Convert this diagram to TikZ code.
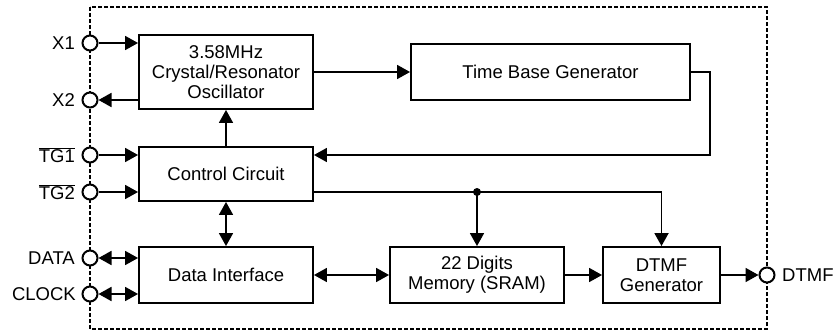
\documentclass[tikz,border=0pt]{standalone}
\usepackage{fontspec}
\setmainfont{Liberation Sans}
\usetikzlibrary{arrows.meta}
\begin{document}
\begin{tikzpicture}[x=1pt,y=-1pt,
  txt/.style={font=\fontsize{18.5}{20}\selectfont},
  blk/.style={txt,draw,line width=1.9pt,inner sep=0pt,align=center},
  pin/.style={circle,draw,line width=2pt,fill=white,minimum size=15pt,inner sep=0pt},
  lbl/.style={txt,inner sep=0pt},
  tip/.style={Triangle[length=13pt,width=14pt]},
  arr/.style={line width=1.8pt,-{Triangle[length=13pt,width=14pt]}},
  darr/.style={line width=1.8pt,{Triangle[length=13pt,width=14pt]}-{Triangle[length=13pt,width=14pt]}},
  chip/.style={line width=1.4pt,dash pattern=on 4pt off 2pt}
  ]
\useasboundingbox (0,0) rectangle (837,331);
\draw[chip] (90,7) rectangle (767,329);
% blocks
\node[blk,minimum width=174pt,minimum height=74pt] (osc) at (226,72) {3.58MHz\\Crystal/Resonator\\Oscillator};
\node[blk,minimum width=279pt,minimum height=56pt] (tbg) at (550.5,72) {Time Base Generator};
\node[blk,minimum width=174pt,minimum height=54pt] (cc) at (226,174) {Control Circuit};
\node[blk,minimum width=174pt,minimum height=56pt] (di) at (226,275) {Data Interface};
\node[blk,minimum width=174pt,minimum height=56pt] (mem) at (477,275) {22 Digits\\Memory (SRAM)};
\node[blk,minimum width=117pt,minimum height=56pt] (dtmf) at (661.5,275) {DTMF\\Generator};
% pins
\node[pin] (x1) at (90,43) {};
\node[pin] (x2) at (90,100) {};
\node[pin] (tg1) at (90,155) {};
\node[pin] (tg2) at (90,192) {};
\node[pin] (data) at (90,258) {};
\node[pin] (clock) at (90,294) {};
\node[pin] (out) at (767,275) {};
% pin labels
\node[lbl,anchor=east] (lx1) at (75,43) {X1};
\node[lbl,anchor=east] (lx2) at (75,100) {X2};
\node[lbl,anchor=east] (ltg1) at (75,155) {$\overline{\mbox{TG1}}$};
\node[lbl,anchor=east] (ltg2) at (75,192) {$\overline{\mbox{TG2}}$};
\node[lbl,anchor=east] (ldata) at (75,258) {DATA};
\node[lbl,anchor=east] (lclock) at (76,294) {CLOCK};
\node[lbl,anchor=west] (lout) at (782,275) {DTMF};
% connectors
\draw[arr] (x1) -- (x1 -| osc.west);
\draw[arr] (x2 -| osc.west) -- (x2);
\draw[arr] (osc) -- (tbg);
\coordinate (tr) at ([xshift=19pt]tbg.east);
\draw[arr] (tbg.east) -- (tr) |- (tg1 -| cc.east);
\draw[arr] (tg1) -- (tg1 -| cc.west);
\draw[arr] (tg2) -- (tg2 -| cc.west);
\draw[arr] (cc) -- (osc);
\draw[darr] (cc) -- (di);
\draw[arr] (tg2 -| cc.east) -| (dtmf);
\coordinate (j) at (mem.north |- tg2);
\draw[arr] (j) -- (mem);
\fill (j) circle (4pt);
\draw[darr] (di) -- (mem);
\draw[arr] (mem) -- (dtmf);
\draw[arr] (dtmf) -- (out);
\draw[darr] (data) -- (data -| di.west);
\draw[darr] (clock) -- (clock -| di.west);
\end{tikzpicture}
\end{document}
